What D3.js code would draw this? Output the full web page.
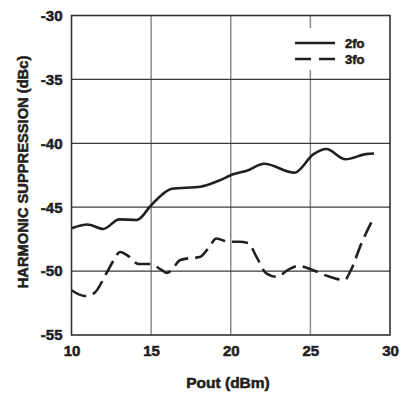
<!DOCTYPE html>
<html>
<head>
<meta charset="utf-8">
<script src="https://cdn.jsdelivr.net/npm/d3@7"></script>
<style>
  html, body { margin: 0; padding: 0; background: #fff; }
  svg { display: block; }
  text {
    font-family: "Liberation Sans Narrow", "Arial Narrow", "Liberation Sans", Arial, sans-serif;
    font-weight: 900; fill: #231f20;
    stroke: #231f20; stroke-width: 0.55px; paint-order: stroke;
  }
</style>
</head>
<body>
<svg id="chart" width="410" height="394"></svg>
<script>
// Output power sweep (dBm) and harmonic suppression (dBc)
const pout2fo = [10, 11, 12, 13, 14.1, 15, 15.7, 16.3, 18.1, 19.2, 20.2, 21, 22.1, 24, 25.2, 26, 27.2, 28.5, 29];
const supp2fo = [-46.65, -46.35, -46.7, -45.95, -46.0, -44.85, -44.0, -43.55, -43.4, -42.95, -42.4, -42.15, -41.6, -42.3, -40.85, -40.45, -41.25, -40.85, -40.8];

const pout3fo = [10, 10.85, 11.4, 12.2, 12.65, 13.05, 13.6, 14.2, 14.9, 15.65, 16.0, 16.3, 16.8, 17.35, 18.05, 18.6, 19.1, 19.85, 20.5, 21.1, 21.6, 22.25, 22.9, 23.6, 24.25, 25.1, 26.0, 27.15, 27.5, 28.2, 29];
const supp3fo = [-51.5, -51.95, -51.75, -50.15, -49.15, -48.5, -48.85, -49.45, -49.45, -49.9, -50.15, -49.9, -49.15, -49.0, -48.9, -48.2, -47.45, -47.7, -47.7, -47.8, -48.85, -50.2, -50.45, -49.9, -49.6, -49.9, -50.35, -50.7, -50.05, -47.85, -45.75];

const xTicks = [10, 15, 20, 25, 30];
const yTicks = [-55, -50, -45, -40, -35, -30];
const seriesNames = ["2fo", "3fo"];

const svg = d3.select("#chart");
const plotL = 71.5, plotR = 390, plotT = 15.5, plotB = 335;

const x = d3.scaleLinear().domain([10, 30]).range([plotL, plotR]);
const y = d3.scaleLinear().domain([-55, -30]).range([plotB, plotT]);

// vertical grid (lighter)
svg.append("g").selectAll("line").data(xTicks.slice(1, -1)).join("line")
  .attr("x1", d => x(d)).attr("x2", d => x(d))
  .attr("y1", plotT).attr("y2", plotB)
  .attr("stroke", "#8a8a8a").attr("stroke-width", 1.5);

// horizontal grid (darker)
svg.append("g").selectAll("line").data(yTicks.slice(1, -1)).join("line")
  .attr("x1", plotL).attr("x2", plotR)
  .attr("y1", d => y(d)).attr("y2", d => y(d))
  .attr("stroke", "#3a3a3a").attr("stroke-width", 1.3);

// legend backdrop breaks the gridline behind it
const legendX = 295, legendY = 43;
svg.append("rect")
  .attr("x", legendX - 6).attr("y", legendY - 15)
  .attr("width", 75).attr("height", 42)
  .attr("fill", "#fff");

// plot frame
svg.append("rect")
  .attr("x", plotL).attr("y", plotT)
  .attr("width", plotR - plotL).attr("height", plotB - plotT)
  .attr("fill", "none").attr("stroke", "#333").attr("stroke-width", 1.6);

// tick labels
const xAxis = d3.axisBottom(x).tickValues(xTicks).tickSize(0).tickPadding(10);
svg.append("g").attr("transform", `translate(0,${plotB})`).call(xAxis)
  .call(g => g.select(".domain").remove())
  .attr("font-family", null).attr("font-size", null)
  .selectAll("text").attr("font-size", 15);

const yAxis = d3.axisLeft(y).tickValues(yTicks).tickSize(0).tickPadding(9)
  .tickFormat(d => String(d));
svg.append("g").attr("transform", `translate(${plotL},0)`).call(yAxis)
  .call(g => g.select(".domain").remove())
  .attr("font-family", null).attr("font-size", null)
  .selectAll("text").attr("font-size", 15);

svg.selectAll(".tick text").attr("fill", "#231f20");

// axis titles
svg.append("text")
  .attr("x", 228).attr("y", 388)
  .attr("text-anchor", "middle").attr("font-size", 15.5)
  .text("Pout (dBm)");

svg.append("text")
  .attr("transform", `translate(28,172) rotate(-90)`)
  .attr("text-anchor", "middle").attr("font-size", 14.7)
  .text("HARMONIC SUPPRESSION (dBc)");

// curves
const line = d3.line().x(d => x(d[0])).y(d => y(d[1])).curve(d3.curveMonotoneX);

svg.append("path")
  .datum(d3.zip(pout2fo, supp2fo))
  .attr("d", line)
  .attr("fill", "none").attr("stroke", "#231f20").attr("stroke-width", 2.6)
  .attr("stroke-linejoin", "round");

svg.append("path")
  .datum(d3.zip(pout3fo, supp3fo))
  .attr("d", line)
  .attr("fill", "none").attr("stroke", "#231f20").attr("stroke-width", 2.6)
  .attr("stroke-dasharray", "16,7");

// legend
const legend = svg.append("g");
seriesNames.forEach((name, i) => {
  const ly = legendY + i * 16;
  legend.append("line")
    .attr("x1", legendX).attr("x2", legendX + 40)
    .attr("y1", ly).attr("y2", ly)
    .attr("stroke", "#231f20").attr("stroke-width", 2.4)
    .attr("stroke-dasharray", i === 1 ? "16,8" : null);
  legend.append("text")
    .attr("x", legendX + 50).attr("y", ly + 5)
    .attr("font-size", 13)
    .text(name);
});
</script>
</body>
</html>
